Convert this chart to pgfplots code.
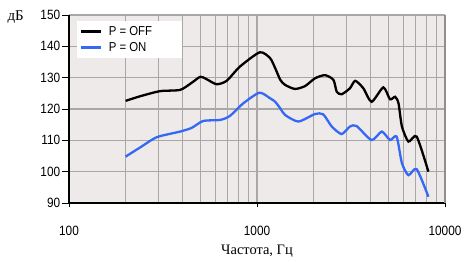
\documentclass[border=0pt]{standalone}
\usepackage{fontspec}
\setmainfont{Liberation Serif}
\newfontfamily\narrowsans[FakeStretch=0.88]{Liberation Sans}
\usepackage{pgfplots}
\pgfplotsset{compat=1.18}
\definecolor{bgc}{RGB}{237,234,233}
\definecolor{gridc}{RGB}{170,168,167}
\definecolor{blueline}{RGB}{52,104,245}
\begin{document}
\begin{tikzpicture}
\path[use as bounding box] (-69bp,-59bp) rectangle (396bp,203bp);
\begin{axis}[
  name=ax,
  scale only axis,
  width=376bp, height=188bp,
  xmode=log, log basis x=10,
  xmin=100, xmax=10000, ymin=90, ymax=150,
  xtick={100,1000,10000},
  xticklabels={100,1000,10000},
  minor xtick={200,300,400,500,600,700,800,900,2000,3000,4000,5000,6000,7000,8000,9000},
  ytick={90,100,110,120,130,140,150},
  grid=both,
  major grid style={gridc, line width=1.1bp},
  minor grid style={gridc, line width=1.1bp},
  axis background/.style={fill=bgc},
  axis lines=left,
  axis line style={-, black, line width=1.1bp},
  tick align=outside,
  minor tick length=0pt,
  xtick style={black, line width=1bp, /pgfplots/major tick length=4bp},
  ytick style={black, line width=1bp, /pgfplots/major tick length=7bp},
  /pgf/number format/assume math mode=true,
  tick label style={font=\narrowsans\fontsize{13.5}{15}\selectfont},
  xticklabel style={yshift=-15bp},
  yticklabel style={xshift=-1bp},
  xlabel={Частота, Гц},
  xlabel style={font=\fontsize{14.5}{16}\selectfont, yshift=-3bp},
  legend style={at={(0,1)}, anchor=north west, xshift=8bp, yshift=-6bp,
    draw=none, fill=white, font=\narrowsans\fontsize{13}{15}\selectfont,
    inner xsep=2bp, inner ysep=3bp, row sep=1.5bp},
  legend cell align=left,
  legend image code/.code={\draw[#1, line width=2.6bp] (0bp,0bp) -- (20bp,0bp);},
]
\addplot[black, line width=2.3bp, smooth, tension=0.4] coordinates {
(200,122.6) (240,124.1) (305,125.7) (390,126.1) (450,128.4) (500,130.3)
(540,129.5) (610,127.9) (690,129.0) (810,133.5) (1035,138.1) (1175,136.2)
(1250,133.0) (1330,129.3) (1410,127.7) (1590,126.4) (1800,127.3) (2035,129.8)
(2300,130.8) (2550,129.3) (2655,125.5) (2820,124.7) (3120,126.6) (3330,129.0)
(3680,126.6) (4070,122.3) (4700,126.9) (5100,123.1) (5430,123.9) (5660,121.8)
(5900,114.4) (6390,109.6) (7070,111.2) (8160,100.0)
};
\addlegendentry{\hspace{5bp}\makebox[69bp][l]{P = OFF}}
\addplot[blueline, line width=2.3bp, smooth, tension=0.4] coordinates {
(200,104.8) (240,107.8) (293,111.0) (390,112.8) (450,114.0) (518,116.2)
(636,116.5) (718,117.8) (845,121.8) (1030,125.2) (1175,123.4) (1250,122.3)
(1330,120.2) (1410,118.1) (1660,116.0) (2035,118.4) (2250,118.3) (2500,114.4)
(2820,112.0) (3120,114.4) (3380,114.6) (4070,110.1) (4610,112.8) (5100,110.1)
(5530,111.2) (5900,102.7) (6390,98.9) (7070,100.8) (8160,92.0)
};
\addlegendentry{\hspace{5bp}\makebox[69bp][l]{P = ON}}
\end{axis}
\draw[gridc!85!black, line width=1.8bp] (ax.south east) -- (ax.north east);
\node[anchor=north east, inner sep=0pt, font=\fontsize{15}{17}\selectfont]
  at ([xshift=-45bp, yshift=4bp]ax.north west) {дБ};
\end{tikzpicture}
\end{document}
